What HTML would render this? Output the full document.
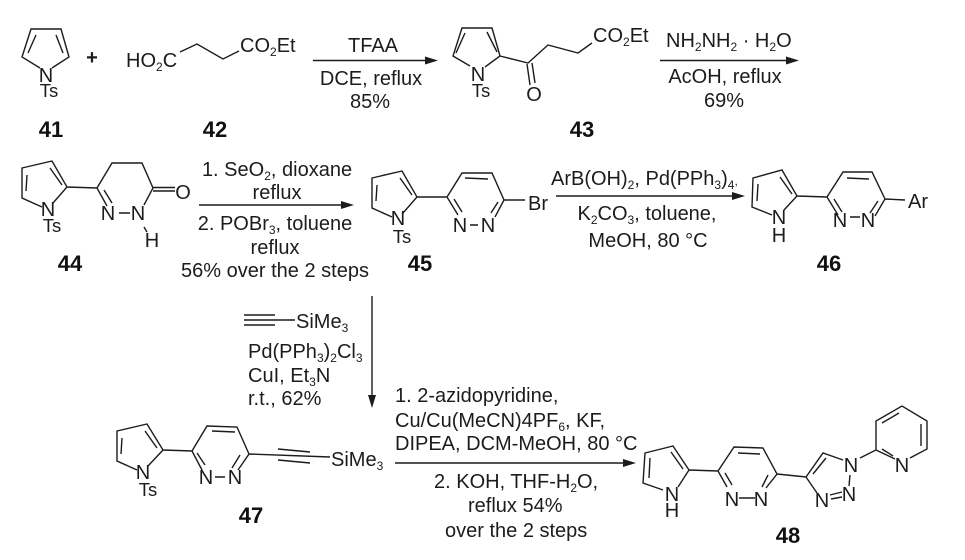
<!DOCTYPE html>
<html><head><meta charset="utf-8"><style>
html,body{margin:0;padding:0;background:#fff}
svg{display:block}
text{font-family:"Liberation Sans",sans-serif;font-size:20px;fill:#1c1c1c}
.c{text-anchor:middle}
.t{font-size:18.5px}
.b{font-weight:bold;font-size:22px;text-anchor:middle;fill:#111}
.s{font-size:12px}
path{fill:none;stroke:#1c1c1c;stroke-width:1.4}
.h{fill:#1c1c1c;stroke:none}
</style></head><body>
<svg width="965" height="560" viewBox="0 0 965 560" xmlns="http://www.w3.org/2000/svg">
<!-- 41 -->
<path d="M40 68L22 57L31 29H61L69 57L52 68M28 53L36 35M56 35L63 53"/>
<text class="c" x="46" y="82">N</text><text class="c t" x="49" y="97">Ts</text>
<text class="c" x="92" y="64" style="font-weight:bold">+</text>
<!-- 42 -->
<text x="126" y="67">HO<tspan class="s" dy="4">2</tspan><tspan dy="-4">C</tspan></text>
<path d="M180 52L197 44L223 59L239 51"/>
<text x="240" y="52">CO<tspan class="s" dy="4">2</tspan><tspan dy="-4">Et</tspan></text>
<text class="b" x="51" y="137">41</text><text class="b" x="215" y="137">42</text>
<!-- arrow 1 -->
<path d="M313 60.5H428"/><path class="h" d="M438 60.5L425 56.5V64.5Z"/>
<text class="c" x="373" y="52">TFAA</text><text class="c" x="371" y="85">DCE, reflux</text><text class="c" x="370" y="108">85%</text>
<!-- 43 -->
<path d="M470 66L453 56L462 28H492L500 56L485 67M456 53L465 33M487 32L497 52M500 56L528 63L548 45L578 53L592 43M527 64L530 85M532 63L535 83"/>
<text class="c" x="478" y="81">N</text><text class="c t" x="481" y="97">Ts</text>
<text class="c" x="534" y="101">O</text>
<text x="593" y="42">CO<tspan class="s" dy="4">2</tspan><tspan dy="-4">Et</tspan></text>
<text class="b" x="582" y="137">43</text>
<!-- arrow 2 -->
<path d="M660 60.5H788"/><path class="h" d="M799 60.5L786 56.5V64.5Z"/>
<text x="666" y="47">NH<tspan class="s" dy="4">2</tspan><tspan dy="-4">NH</tspan><tspan class="s" dy="4">2</tspan><tspan dy="-4"> · H</tspan><tspan class="s" dy="4">2</tspan><tspan dy="-4">O</tspan></text>
<text class="c" x="725" y="83">AcOH, reflux</text><text class="c" x="724" y="107">69%</text>
<!-- 44 -->
<path d="M42 207L22 198V168L52 161L67 187L53 203M27 175L26 191M50 168L62 185M67 187L97 188L112 163H142L153 188L144 205M97 188L107 206M104 190L112 203M119 213H130M153 187.5H175M153 191H175M144 227L147 232"/>
<text class="c" x="48" y="216">N</text><text class="c t" x="52" y="232">Ts</text>
<text class="c" x="108" y="220">N</text><text class="c" x="138" y="220">N</text>
<text class="c" x="183" y="199">O</text><text class="c" x="152" y="247">H</text>
<text class="b" x="70" y="271">44</text>
<!-- arrow 3 -->
<path d="M199 205H344"/><path class="h" d="M354 205L341 201V209Z"/>
<text class="c" x="277" y="176">1. SeO<tspan class="s" dy="4">2</tspan><tspan dy="-4">, dioxane</tspan></text>
<text class="c" x="277" y="199">reflux</text>
<text class="c" x="275" y="230">2. POBr<tspan class="s" dy="4">3</tspan><tspan dy="-4">, toluene</tspan></text>
<text class="c" x="275" y="254">reflux</text>
<text class="c" x="275" y="277">56% over the 2 steps</text>
<!-- 45 -->
<path d="M392 217L372 208V178L402 171L417 197L403 213M377 185L376 201M400 178L412 195M417 197L447 197L462 173H492L504 200L495 217M447 197L458 215M454 199L462 212M465 178L488 179M498 202L491 213M470 225H478M504 200H525"/>
<text class="c" x="398" y="225">N</text><text class="c t" x="402" y="243">Ts</text>
<text class="c" x="460" y="232">N</text><text class="c" x="488" y="232">N</text>
<text x="528" y="210">Br</text>
<text class="b" x="420" y="271">45</text>
<!-- arrow 4 -->
<path d="M556 196H734"/><path class="h" d="M745 196L732 192V200Z"/>
<text x="551" y="185">ArB(OH)<tspan class="s" dy="4">2</tspan><tspan dy="-4">, Pd(PPh</tspan><tspan class="s" dy="4">3</tspan><tspan dy="-4">)</tspan><tspan class="s" dy="4">4</tspan><tspan class="s" dy="-4">,</tspan></text>
<text class="c" x="647" y="220">K<tspan class="s" dy="4">2</tspan><tspan dy="-4">CO</tspan><tspan class="s" dy="4">3</tspan><tspan dy="-4">, toluene,</tspan></text>
<text class="c" x="648" y="247">MeOH, 80 °C</text>
<!-- 46 -->
<path d="M772 215L752 207L753 178L782 170L797 196L784 210M758 184L757 201M780 177L792 194M797 196L827 197L843 172H872L885 199L875 216M827 197L838 215M834 199L842 212M847 178L869 179M878 201L870 213M850 217H860M885 199L905 200"/>
<text class="c" x="779" y="224">N</text><text class="c" x="779" y="242">H</text>
<text class="c" x="840" y="227">N</text><text class="c" x="868" y="227">N</text>
<text x="908" y="208">Ar</text>
<text class="b" x="829" y="271">46</text>
<!-- vertical arrow -->
<path d="M372 296V397"/><path class="h" d="M372 408L368 395H376Z"/>
<!-- reagents -->
<path d="M244 315H275M244 320H295M244 325H275"/>
<text x="296" y="328">SiMe<tspan class="s" dy="4">3</tspan></text>
<text x="248" y="358">Pd(PPh<tspan class="s" dy="4">3</tspan><tspan dy="-4">)</tspan><tspan class="s" dy="4">2</tspan><tspan dy="-4">Cl</tspan><tspan class="s" dy="4">3</tspan></text>
<text x="248" y="382">CuI, Et<tspan class="s" dy="4">3</tspan><tspan dy="-4">N</tspan></text>
<text x="248" y="405">r.t., 62%</text>
<!-- 47 -->
<path d="M137 470L117 461V431L147 424L163 450L148 466M122 438L121 454M145 431L157 448M163 450L192 451L207 426L237 427L249 454L238 470M192 451L202 470M197 453L205 465M212 431L235 432M240 455L232 468M215 477H225M249 454L330 457M278 449L310 452M278 460L310 463"/>
<text class="c" x="143" y="479">N</text><text class="c t" x="148" y="496">Ts</text>
<text class="c" x="206" y="484">N</text><text class="c" x="235" y="484">N</text>
<text x="331" y="466">SiMe<tspan class="s" dy="4">3</tspan></text>
<text class="b" x="251" y="523">47</text>
<!-- arrow 5 -->
<path d="M395 463H625"/><path class="h" d="M636 463L623 459V467Z"/>
<text x="395" y="402">1. 2-azidopyridine,</text>
<text x="395" y="427">Cu/Cu(MeCN)4PF<tspan class="s" dy="4">6</tspan><tspan dy="-4">, KF,</tspan></text>
<text x="395" y="450">DIPEA, DCM-MeOH, 80 °C</text>
<text x="434" y="488">2. KOH, THF-H<tspan class="s" dy="4">2</tspan><tspan dy="-4">O,</tspan></text>
<text x="468" y="512">reflux 54%</text>
<text x="445" y="537">over the 2 steps</text>
<!-- 48 -->
<path d="M663 490L643 483L645 453L673 446L689 470L678 487M650 458L649 478M671 452L683 469M689 470L718 471L734 447L763 448L777 474L766 488M718 471L727 487M725 473L732 485M738 453L760 454M768 475L762 487M739 498H755M777 474L806 477L823 453L843 460M813 474L826 458M806 477L817 493M830 495L842 492M831 499L842 497M850 475L849 486M860 458L876 450L876 421L902 406L927 421V449L910 458M876 450L895 459M882 423L899 413M921 424V446M882 449L893 456"/>
<text class="c" x="672" y="501">N</text><text class="c" x="672" y="517">H</text>
<text class="c" x="732" y="506">N</text><text class="c" x="761" y="506">N</text>
<text class="c" x="851" y="472">N</text><text class="c" x="849" y="501">N</text><text class="c" x="822" y="507">N</text>
<text class="c" x="902" y="472">N</text>
<text class="b" x="788" y="543">48</text>
</svg>
</body></html>
